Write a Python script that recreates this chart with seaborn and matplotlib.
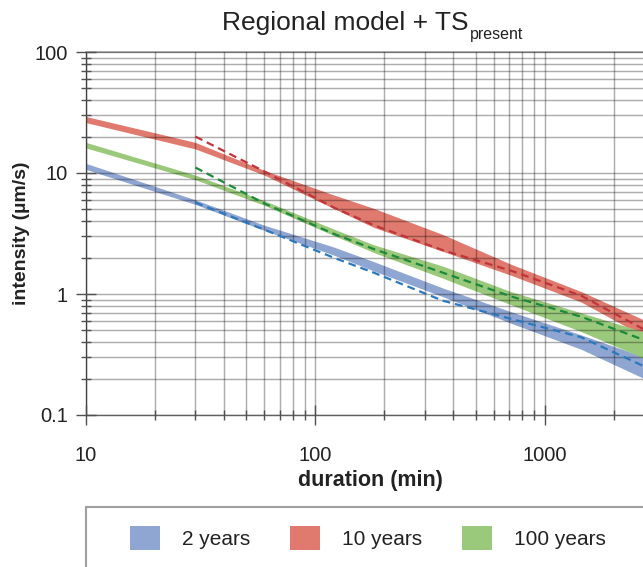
import numpy as np
import pandas as pd
import matplotlib
matplotlib.use("Agg")
import matplotlib.pyplot as plt
import matplotlib.ticker as mticker
from matplotlib.patches import Rectangle, Patch
import seaborn as sns

# ---------------- data ----------------
durations = [10, 30, 60, 120, 180, 360, 720, 1440, 2880]

blue_upper = [12.0, 6.0, 3.7, 2.45, 1.85, 1.12, 0.71, 0.46, 0.29]
blue_lower = [10.7, 5.5, 3.35, 2.1, 1.55, 0.95, 0.57, 0.35, 0.19]

red_upper = [29.3, 17.9, 10.5, 6.6, 5.1, 3.1, 1.75, 1.05, 0.58]
red_lower = [26.1, 15.8, 9.6, 5.1, 3.55, 2.25, 1.42, 0.86, 0.42]

green_upper = [17.9, 9.6, 5.9, 3.45, 2.55, 1.7, 1.04, 0.70, 0.47]
green_lower = [16.1, 8.8, 5.4, 3.05, 2.2, 1.35, 0.81, 0.49, 0.28]

dash_durations = [30, 60, 120, 180, 360, 720, 1440, 2880]
blue_dash = [5.7, 3.4, 2.0, 1.5, 0.88, 0.62, 0.44, 0.24]
red_dash = [20.0, 10.3, 5.2, 3.7, 2.3, 1.55, 0.97, 0.48]
green_dash = [11.1, 5.6, 3.15, 2.35, 1.5, 0.95, 0.65, 0.40]

periods = ["2 years", "10 years", "100 years"]
x_ticks = [10, 100, 1000]
y_ticks = [0.1, 1, 10, 100]

band_colors = {"2 years": "#8fa6d2", "10 years": "#e07a6e", "100 years": "#9bc97b"}
dash_colors = {"2 years": "#2b78bd", "10 years": "#c0343b", "100 years": "#1c8a3c"}

# ---------------- style ----------------
sns.set_theme(style="white")
plt.rcParams['font.family'] = ['Liberation Sans', 'DejaVu Sans']

W, H = 643, 567
fig = plt.figure(figsize=(W / 100, H / 100), dpi=100)
ax = fig.add_axes([86 / W, (H - 415) / H, 568 / W, 363 / H])
ax.set_xscale('log')
ax.set_yscale('log')

bands = {
    "2 years": (blue_lower, blue_upper),
    "10 years": (red_lower, red_upper),
    "100 years": (green_lower, green_upper),
}
for p in periods:
    lo, up = bands[p]
    ax.fill_between(durations, lo, up, color=band_colors[p], lw=0, zorder=1)

df = pd.concat([
    pd.DataFrame({"duration": dash_durations, "intensity": blue_dash, "period": "2 years"}),
    pd.DataFrame({"duration": dash_durations, "intensity": red_dash, "period": "10 years"}),
    pd.DataFrame({"duration": dash_durations, "intensity": green_dash, "period": "100 years"}),
], ignore_index=True)
sns.lineplot(data=df, x="duration", y="intensity", hue="period", palette=dash_colors,
             hue_order=periods, legend=False, ax=ax, linewidth=1.6, zorder=4,
             estimator=None, sort=False)
for ln in ax.lines:
    ln.set_dashes([3.5, 2.2])

ax.set_xlim(10, 3000)
ax.set_ylim(0.1, 100)

ax.xaxis.set_major_locator(mticker.FixedLocator(x_ticks))
ax.yaxis.set_major_locator(mticker.FixedLocator(y_ticks))
ax.xaxis.set_minor_locator(mticker.LogLocator(base=10, subs=range(2, 10)))
ax.yaxis.set_minor_locator(mticker.LogLocator(base=10, subs=range(2, 10)))
fmt = mticker.FuncFormatter(lambda v, pos: f"{v:g}")
ax.xaxis.set_major_formatter(fmt)
ax.yaxis.set_major_formatter(fmt)
ax.xaxis.set_minor_formatter(mticker.NullFormatter())
ax.yaxis.set_minor_formatter(mticker.NullFormatter())

ax.set_axisbelow(False)
ax.grid(True, which='both', color='black', alpha=0.32, lw=1.05)

ax.xaxis.set_tick_params(which='major', bottom=True, top=False, direction='inout',
                         length=14, width=1.0, color='#505050', pad=15,
                         labelsize=14.5, labelcolor='#222222')
ax.xaxis.set_tick_params(which='minor', bottom=True, top=False, direction='inout',
                         length=7, width=1.0, color='#505050')
ax.yaxis.set_tick_params(which='major', left=True, right=False, direction='inout',
                         length=14, width=1.0, color='#505050', pad=6,
                         labelsize=14.5, labelcolor='#222222')
ax.yaxis.set_tick_params(which='minor', left=True, right=False, direction='inout',
                         length=7, width=1.0, color='#505050')

for s in ['left', 'bottom']:
    ax.spines[s].set_color('#606060')
    ax.spines[s].set_linewidth(1.0)
ax.spines['top'].set_color('#a0a0a0')
ax.spines['right'].set_visible(False)

ax.set_xlabel("duration (min)", fontsize=15.5, fontweight='bold', labelpad=4, color='#222222')
ax.set_ylabel("intensity (µm/s)", fontsize=14, fontweight='bold', labelpad=3, color='#222222')

# title with subscript
fig.text(468 / W, 1 - 30 / H, "Regional model + TS", ha='right', va='baseline',
         fontsize=19, color='#222222')
fig.text(470 / W, 1 - 39 / H, "present", ha='left', va='baseline',
         fontsize=11.5, color='#222222')

# legend
handles = [Patch(facecolor=band_colors[p], edgecolor='none') for p in periods]
fig.legend(handles, periods, loc='center left', bbox_to_anchor=(130 / W, 1 - 538 / H),
           ncol=3, frameon=False, fontsize=15, handlelength=1.45, handleheight=1.4,
           handletextpad=1.05, columnspacing=1.9, borderpad=0, borderaxespad=0,
           labelcolor='#222222')
frame = Rectangle((86 / W, -0.1), 568 / W, (1 - 507 / H) + 0.1, transform=fig.transFigure,
                  fill=False, edgecolor='#a0a0a0', lw=1.5, clip_on=False)
fig.add_artist(frame)

fig.savefig("out.png", dpi=100)
